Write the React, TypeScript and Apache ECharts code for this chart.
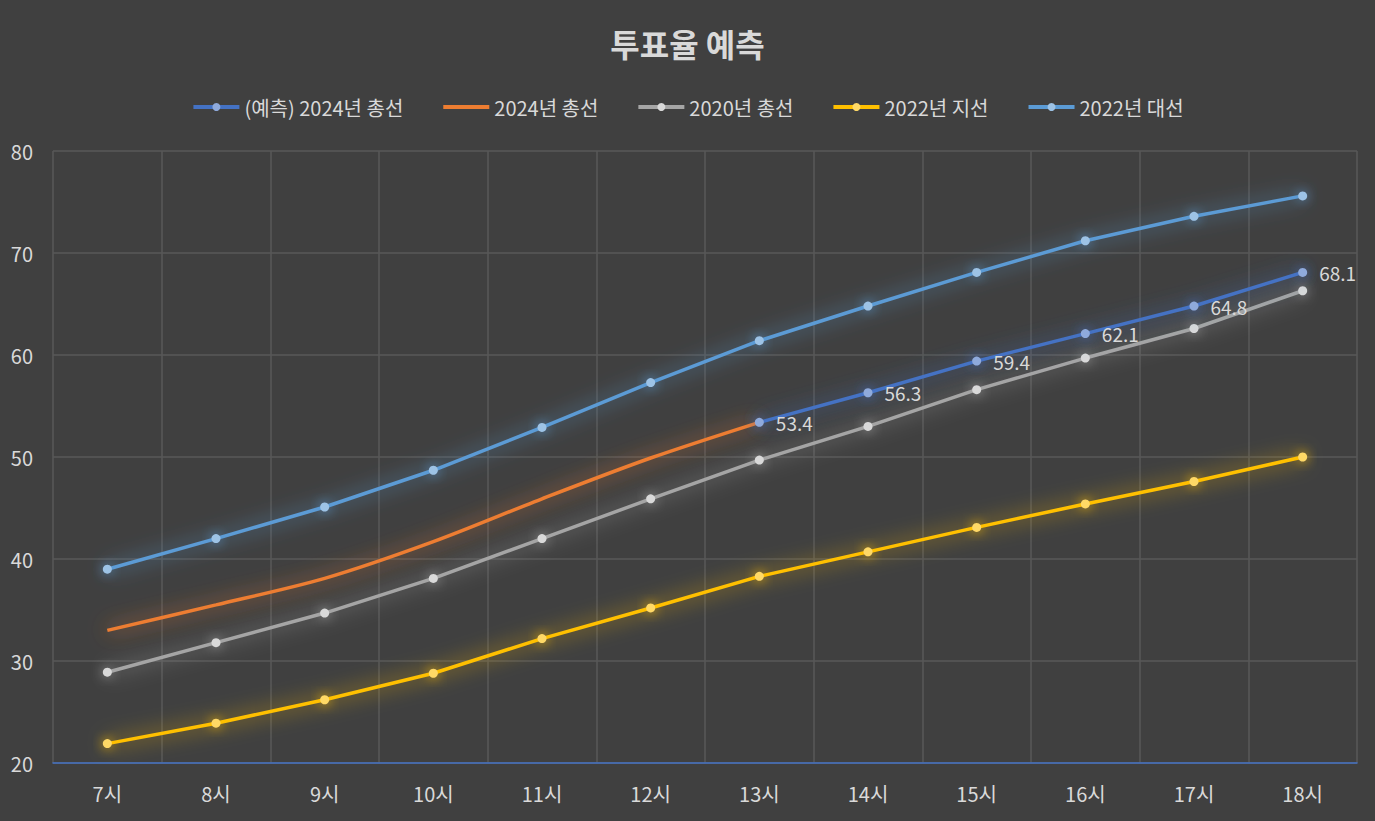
import React, { useEffect, useRef } from "react";
import * as echarts from "echarts";

const categories = ["7시", "8시", "9시", "10시", "11시", "12시", "13시", "14시", "15시", "16시", "17시", "18시"];
const predict2024 = [null, null, null, null, null, null, 53.4, 56.3, 59.4, 62.1, 64.8, 68.1];
const general2024 = [33.0, 35.5, 38.1, 41.7, 45.9, 49.9, 53.4, null, null, null, null, null];
const general2020 = [28.9, 31.8, 34.7, 38.1, 42.0, 45.9, 49.7, 53.0, 56.6, 59.7, 62.6, 66.3];
const local2022 = [21.9, 23.9, 26.2, 28.8, 32.2, 35.2, 38.3, 40.7, 43.1, 45.4, 47.6, 50.0];
const presidential2022 = [39.0, 42.0, 45.1, 48.7, 52.9, 57.3, 61.4, 64.8, 68.1, 71.2, 73.6, 75.6];
const yTicks = { min: 20, max: 80, interval: 10 };

const FONT = "'Noto Sans CJK KR', 'Noto Sans', sans-serif";
const TXT = "#D9D9D9";

export default function App() {
  const ref = useRef<HTMLDivElement>(null);
  useEffect(() => {
    if (!ref.current) return;
    const chart = echarts.init(ref.current, undefined, { renderer: "svg" });
    const mk = (name: string, data: any[], color: string, mcolor: string, opts: any = {}) => ({
      name,
      type: "line",
      data,
      smooth: opts.smooth ?? false,
      symbol: "circle",
      symbolSize: 9,
      showSymbol: !opts.noMarker,
      connectNulls: false,
      itemStyle: { color: mcolor, shadowBlur: 12, shadowColor: color },
      lineStyle: { color, width: 3.5, shadowBlur: 20, shadowColor: color },
      label: opts.label
        ? { show: true, position: "right", distance: 12, color: TXT, fontSize: 19, fontFamily: FONT }
        : { show: false },
      z: opts.z ?? 2,
    });
    chart.setOption({
      animation: false,
      backgroundColor: "#404040",
      title: {
        text: "투표율 예측",
        left: "center",
        top: 22,
        textStyle: { color: TXT, fontSize: 32, fontWeight: "bold", fontFamily: FONT },
      },
      legend: {
        top: 92,
        left: "center",
        itemWidth: 46,
        itemHeight: 10,
        itemGap: 38,
        textStyle: { color: TXT, fontSize: 20, fontFamily: FONT },
        lineStyle: { width: 4 },
        data: [
          "(예측) 2024년 총선",
          { name: "2024년 총선", itemStyle: { opacity: 0 } },
          "2020년 총선",
          "2022년 지선",
          "2022년 대선",
        ],
      },
      grid: { left: 53, right: 18, top: 151, bottom: 58, containLabel: false },
      xAxis: {
        type: "category",
        data: categories,
        boundaryGap: true,
        axisLine: { show: true, lineStyle: { color: "#4472C4", width: 1.5 } },
        axisTick: { show: false },
        axisLabel: { color: TXT, fontSize: 20, fontFamily: FONT, margin: 20 },
        splitLine: { show: true, lineStyle: { color: "#595959", width: 1.5 } },
      },
      yAxis: {
        type: "value",
        min: yTicks.min,
        max: yTicks.max,
        interval: yTicks.interval,
        axisLine: { show: false },
        axisTick: { show: false },
        axisLabel: { color: TXT, fontSize: 20, fontFamily: FONT, margin: 20 },
        splitLine: { show: true, lineStyle: { color: "#595959", width: 1.5 } },
      },
      series: [
        mk("2022년 대선", presidential2022, "#5B9BD5", "#9DC3E6", { z: 2 }),
        mk("2020년 총선", general2020, "#A5A5A5", "#D9D9D9", { z: 3 }),
        mk("2022년 지선", local2022, "#FFC000", "#FFD966", { z: 3 }),
        mk("2024년 총선", general2024, "#ED7D31", "#ED7D31", { noMarker: true, smooth: 0.3, z: 4 }),
        mk("(예측) 2024년 총선", predict2024, "#4472C4", "#8FAADC", { label: true, z: 5 }),
      ],
    });
    return () => chart.dispose();
  }, []);
  return <div ref={ref} style={{ width: 1375, height: 821, position: "absolute", left: 0, top: 0 }} />;
}
